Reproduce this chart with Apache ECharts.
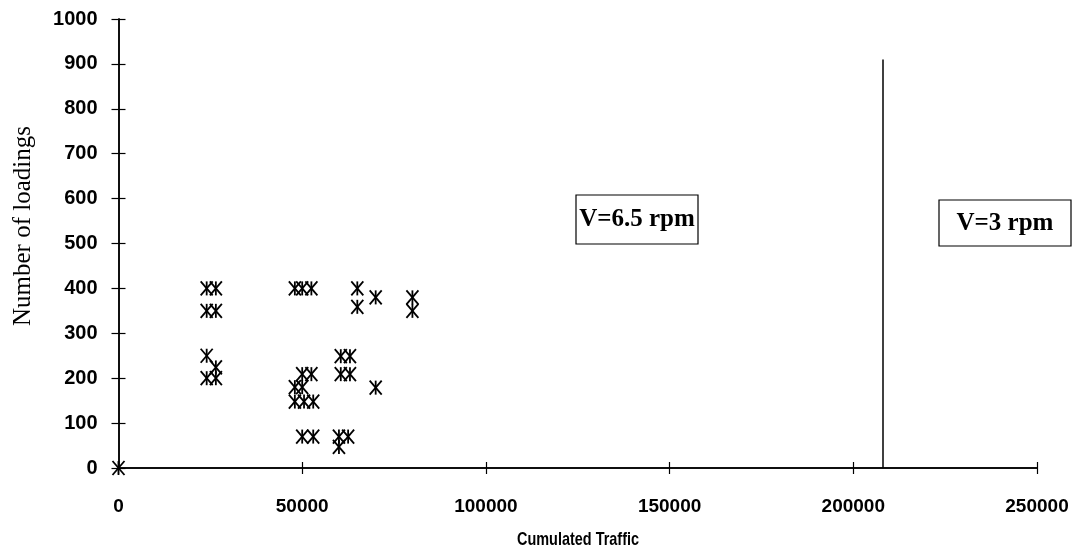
<!DOCTYPE html>
<html>
<head>
<meta charset="UTF-8">
<title>Cumulated Traffic</title>
<script src="https://cdn.jsdelivr.net/npm/echarts@6/dist/echarts.min.js"></script>
<style>
    body { margin: 0; background: #fff; }
    #root { width: 1079px; height: 552px; }
</style>
</head>
<body>
<div id="root"></div>
<script>
// cumulated traffic / number of loadings
var traffic = [0,
    24000, 26500, 24000, 26500, 24000, 26500, 24000, 26500,
    48000, 50000, 52500, 65000, 65000, 70000, 80000, 80000,
    60500, 63000, 60500, 63000, 50000, 52500, 70000,
    48000, 50000, 48000, 50500, 53000,
    50000, 53000, 60000, 62500, 60000];
var loadings = [0,
    400, 400, 350, 350, 250, 224, 200, 200,
    400, 400, 400, 400, 359, 380, 380, 350,
    249, 249, 209, 209, 209, 209, 179,
    180, 180, 148, 148, 148,
    70, 70, 70, 70, 47];

var speedLimit = 208000;   // V=3 rpm boundary
var speedLineTop = 910;

var points = traffic.map(function (t, i) { return [t, loadings[i]]; });

var mychart = echarts.init(document.getElementById('root'));

function plain(v) { return String(v); }

var xBase = {
    type: 'value', min: 0, max: 250000, interval: 50000,
    splitLine: { show: false },
    axisLine: { lineStyle: { color: '#000', width: 1.5 } }
};
var yBase = {
    type: 'value', min: 0, max: 1000, interval: 100,
    splitLine: { show: false },
    axisLine: { lineStyle: { color: '#000', width: 1.5 } }
};

// asterisk marker: X with a vertical bar
function renderStar(params, api) {
    var p = api.coord([api.value(0), api.value(1)]);
    var w = 6, h = 7;
    var st = { stroke: '#000', lineWidth: 1.8 };
    return {
        type: 'group',
        children: [
            { type: 'line', shape: { x1: p[0] - w, y1: p[1] - h, x2: p[0] + w, y2: p[1] + h }, style: st },
            { type: 'line', shape: { x1: p[0] + w, y1: p[1] - h, x2: p[0] - w, y2: p[1] + h }, style: st },
            { type: 'line', shape: { x1: p[0], y1: p[1] - h, x2: p[0], y2: p[1] + h }, style: st }
        ]
    };
}

mychart.setOption({
    animation: false,
    grid: { left: 118.5, right: 42, top: 19, bottom: 84 },
    xAxis: [
        echarts.util.merge({
            axisTick: { inside: false, length: 6, lineStyle: { color: '#000', width: 1.2 } },
            axisLabel: { margin: 29, fontFamily: 'Liberation Sans', fontWeight: 'bold', fontSize: 19, color: '#000', formatter: plain }
        }, xBase, true),
        echarts.util.merge({
            position: 'bottom',
            axisTick: { inside: true, length: 6, lineStyle: { color: '#000', width: 1.2 } },
            axisLabel: { show: false }
        }, xBase, true)
    ],
    yAxis: [
        echarts.util.merge({
            axisTick: { inside: false, length: 7, lineStyle: { color: '#000', width: 1.2 } },
            axisLabel: { margin: 21, fontFamily: 'Liberation Sans', fontWeight: 'bold', fontSize: 20, color: '#000', formatter: plain }
        }, yBase, true),
        echarts.util.merge({
            position: 'left',
            axisTick: { inside: true, length: 7, lineStyle: { color: '#000', width: 1.2 } },
            axisLabel: { show: false }
        }, yBase, true)
    ],
    graphic: [
        {
            type: 'text',
            x: 23, y: 226,
            rotation: Math.PI / 2,
            style: {
                text: 'Number of loadings',
                font: '25px "Liberation Serif"',
                fill: '#000',
                align: 'center',
                verticalAlign: 'middle'
            }
        },
        {
            type: 'text',
            x: 578, y: 540,
            scaleX: 0.76,
            style: {
                text: 'Cumulated Traffic',
                font: 'bold 19px "Liberation Sans"',
                fill: '#000',
                align: 'center',
                verticalAlign: 'middle'
            }
        },
        {
            type: 'group',
            x: 576, y: 195,
            children: [
                { type: 'rect', shape: { x: 0, y: 0, width: 122, height: 49 },
                  style: { fill: '#fff', stroke: '#000', lineWidth: 1.2 } },
                { type: 'text', x: 61, y: 25,
                  style: { text: 'V=6.5 rpm', font: 'bold 25px "Liberation Serif"', fill: '#000',
                           align: 'center', verticalAlign: 'middle' } }
            ]
        },
        {
            type: 'group',
            x: 939, y: 200,
            children: [
                { type: 'rect', shape: { x: 0, y: 0, width: 132, height: 46 },
                  style: { fill: '#fff', stroke: '#000', lineWidth: 1.2 } },
                { type: 'text', x: 66, y: 24,
                  style: { text: 'V=3 rpm', font: 'bold 25px "Liberation Serif"', fill: '#000',
                           align: 'center', verticalAlign: 'middle' } }
            ]
        }
    ],
    series: [{
        type: 'custom',
        renderItem: renderStar,
        data: points,
        clip: false,
        z: 5
    }, {
        type: 'line',
        data: [],
        markLine: {
            silent: true,
            symbol: 'none',
            label: { show: false },
            lineStyle: { color: '#000', width: 1.5, type: 'solid' },
            data: [[{ coord: [speedLimit, 0] }, { coord: [speedLimit, speedLineTop] }]]
        }
    }]
});
</script>
</body>
</html>
